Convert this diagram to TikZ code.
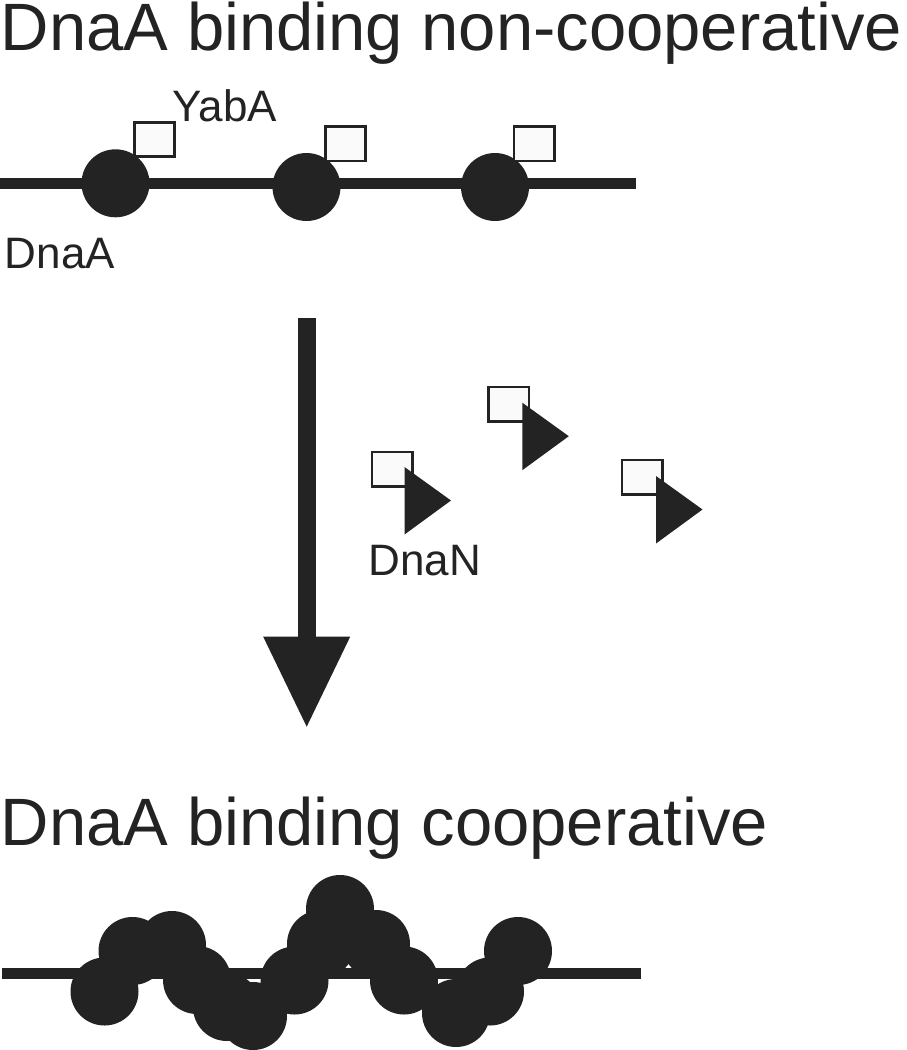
\documentclass[tikz,border=0pt]{standalone}
\usepackage{fontspec}
\setmainfont{Liberation Sans}
\usetikzlibrary{arrows.meta}
\definecolor{ink}{HTML}{232323}
\definecolor{boxfill}{HTML}{FAFAFA}
\begin{document}
\begin{tikzpicture}[x=1pt,y=-1pt]
 \tikzset{dnaa/.style = {circle, fill=ink, minimum size=68pt, inner sep=0pt}}
 \tikzset{yaba/.style = {draw=ink, fill=boxfill, rectangle, line width=2.7pt, minimum width=40.3pt, minimum height=34.3pt, inner sep=0pt}}
 \tikzset{dna/.style = {draw=ink, line width=11.7pt}}
 \tikzset{big/.style = {anchor=base west, inner sep=0pt, text=ink, font=\fontsize{67}{80}\selectfont}}
 \tikzset{lbl/.style = {anchor=base west, inner sep=0pt, text=ink, font=\fontsize{44}{52}\selectfont}}
 \def\tri{++(0,67.5) -- ++(46.5,-34) -- cycle}

 \useasboundingbox (0,0) rectangle (906,1050);

 % non-cooperative
 \node[big] (top) at (0.7,50) {DnaA binding non-cooperative};
 \coordinate (l1) at (0,183.5);
 \coordinate (r1) at (635.7,183.5);
 \draw[dna] (l1) -- (r1);
 \node[dnaa] (a1) at (115.5,183.3) {};
 \node[dnaa] (a2) at (306.5,187) {};
 \node[dnaa] (a3) at (495,187) {};
 \path (a1) node[yaba] (y1) at +(39,-43.8) {};
 \path (a2) node[yaba] (y2) at +(39,-43.3) {};
 \path (a3) node[yaba] (y3) at +(39,-43.3) {};
 \node[lbl] (yabalbl) at (172.7,121.7) {YabA};
 \node[lbl] (dnaalbl) at (4.8,268.3) {DnaA};

 % arrow
 \coordinate (arrtop) at (306.7,318);
 \coordinate (arrtip) at (306.7,726.7);
 \draw[draw=ink, fill=ink, line width=18pt,
   -{Triangle[length=90pt,width=87pt,line width=0pt]}] (arrtop) -- (arrtip);

 % DnaN with YabA
 \node[yaba] (n1) at (392,469) {};
 \fill[ink] (n1.center) ++(12.5,-2) -- \tri;
 \node[yaba] (n2) at (508.7,404.2) {};
 \fill[ink] (n2.center) ++(13.6,-1.5) -- \tri;
 \node[yaba] (n3) at (642.2,477.2) {};
 \fill[ink] (n3.center) ++(13.8,-1.2) -- \tri;
 \node[lbl] (dnanlbl) at (368.5,575) {DnaN};

 % cooperative
 \node[big] (bottom) at (0.7,845) {DnaA binding cooperative};
 \coordinate (l2) at (2,973.5);
 \coordinate (r2) at (641,973.5);
 \draw[dna] (l2) -- (r2);
 \foreach \cx/\cy [count=\i] in {104.5/991.5, 132.5/951, 172/945, 197/980,
   227/1007, 253/1016, 294.5/980.5, 321/944, 340/909, 376/944,
   404/980.5, 456/1013, 490/991.5, 518/951}
   \node[dnaa] (b\i) at (\cx,\cy) {};

\end{tikzpicture}
\end{document}
